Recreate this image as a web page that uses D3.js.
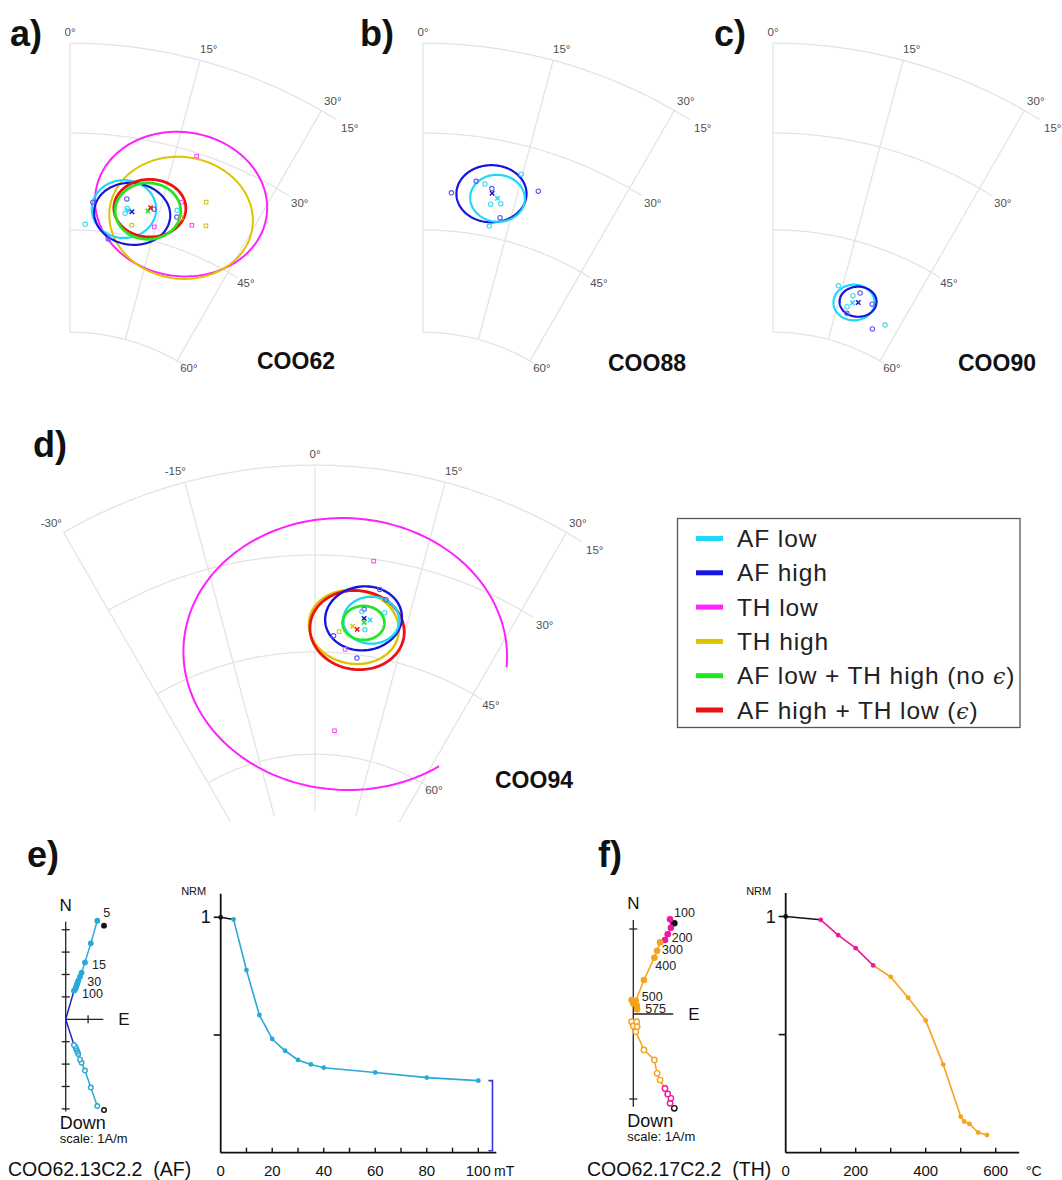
<!DOCTYPE html>
<html><head><meta charset="utf-8">
<script src="https://cdn.jsdelivr.net/npm/d3@7"></script>
<style>
body{margin:0;background:#fff}
svg{display:block}
text{font-family:"Liberation Sans",Arial,sans-serif}
</style>
</head><body>
<svg id="chart" width="1062" height="1180"></svg>
<script>
// ---------------- DATA ----------------
const methods = ["AF low","AF high","TH low","TH high","AF low + TH high (no ","AF high + TH low ("];
const methodColors = ["#1fd8f7","#1515e0","#ff22ff","#dcc400","#22e622","#ee1111"];
const pointColors  = ["#3fd6f2","#5a5af0","#ff44ff","#d6c000","#22e622","#ee1111"];
const methodIsTH   = [false,false,true,true,false,true];

const decTicksSmall = [0,15,30];
const decTicksWide  = [-30,-15,0,15,30];
const incTicks      = [15,30,45,60];

// site COO62 (dec, inc in degrees; a,b semi-axes in degrees; tilt in degrees)
const ellipsesCOO62 = [
  {m:2, dec:18.0, inc:38.4, a:13.3, b:11.1, tilt:-10},
  {m:3, dec:18.7, inc:40.4, a:11.0, b:9.3,  tilt:-11},
  {m:0, dec:9.1,  inc:41.2, a:4.9,  b:4.4,  tilt:-9},
  {m:1, dec:10.6, inc:41.7, a:5.8,  b:4.7,  tilt:-4},
  {m:5, dec:13.3, inc:40.3, a:5.5,  b:4.4,  tilt:-13},
  {m:4, dec:13.1, inc:40.8, a:5.0,  b:4.3,  tilt:-13}
];
const pointsCOO62 = [
  {m:1,dec:3.8,inc:40.7},{m:1,dec:9.3,inc:39.6},{m:1,dec:14.0,inc:40.3},{m:1,dec:7.1,inc:46.0},{m:1,dec:18.0,inc:40.5},
  {m:0,dec:2.7,inc:44.1},{m:0,dec:9.6,inc:41.0},{m:0,dec:9.4,inc:41.8},{m:0,dec:17.7,inc:39.5},
  {m:2,dec:18.0,inc:30.5},{m:2,dec:20.8,inc:40.9},{m:2,dec:18.0,inc:38.1},{m:2,dec:14.8,inc:42.9},
  {m:3,dec:21.6,inc:36.8},{m:3,dec:23.0,inc:40.2},{m:3,dec:10.9,inc:43.4},{m:3,dec:18.7,inc:40.4}
];
const meansCOO62 = [
  {m:1,dec:10.5,inc:41.4},{m:0,dec:9.8,inc:41.3},{m:4,dec:13.1,inc:40.8},{m:5,dec:13.4,inc:40.2}
];

// site COO88
const ellipsesCOO88 = [
  {m:1, dec:11.0, inc:38.5, a:5.4, b:4.4, tilt:-11},
  {m:0, dec:12.1, inc:39.0, a:4.2, b:3.6, tilt:-8}
];
const pointsCOO88 = [
  {m:1,dec:4.6,inc:39.2},{m:1,dec:8.3,inc:37.0},{m:1,dec:10.9,inc:37.7},{m:1,dec:18.0,inc:36.3},{m:1,dec:13.2,inc:41.8},
  {m:0,dec:9.7,inc:37.2},{m:0,dec:14.8,inc:34.5},{m:0,dec:11.2,inc:40.1},{m:0,dec:12.8,inc:39.7},{m:0,dec:11.7,inc:43.4}
];
const meansCOO88 = [{m:1,dec:11.1,inc:38.4},{m:0,dec:12.1,inc:39.0}];

// site COO90
const ellipsesCOO90 = [
  {m:0, dec:18.4, inc:53.8, a:3.0, b:2.6, tilt:-18},
  {m:1, dec:19.2, inc:53.5, a:2.7, b:2.2, tilt:-19}
];
const pointsCOO90 = [
  {m:1,dec:19.0,inc:52.2},{m:1,dec:22.3,inc:53.1},{m:1,dec:17.6,inc:55.6},{m:1,dec:24.6,inc:56.4},
  {m:0,dec:14.1,inc:52.1},{m:0,dec:17.7,inc:52.9},{m:0,dec:17.2,inc:54.7},{m:0,dec:26.9,inc:55.1}
];
const meansCOO90 = [{m:0,dec:18.1,inc:53.9},{m:1,dec:19.3,inc:53.6}];

// site COO94 (TH low ellipse only partially drawn: param range t0..t1)
const ellipsesCOO94 = [
  {m:2, dec:5.5, inc:45.1, a:24.3, b:20.4, tilt:-2.5, t0:52, t1:362},
  {m:3, dec:6.5, inc:40.9, a:6.9,  b:5.6,  tilt:3.5},
  {m:5, dec:7.1, inc:41.3, a:7.2,  b:6.0,  tilt:1},
  {m:1, dec:7.9, inc:39.4, a:5.9,  b:4.9,  tilt:-14},
  {m:0, dec:9.2, inc:39.5, a:4.3,  b:3.6,  tilt:-9},
  {m:4, dec:8.0, inc:40.1, a:3.2,  b:2.6,  tilt:-8}
];
const pointsCOO94 = [
  {m:2,dec:8.2,inc:30.3},{m:2,dec:4.7,inc:56.5},{m:2,dec:5.4,inc:44.4},
  {m:1,dec:7.8,inc:38.0},{m:1,dec:9.7,inc:34.6},{m:1,dec:7.7,inc:45.5},{m:1,dec:3.2,inc:42.5},{m:1,dec:10.9,inc:36.0},
  {m:0,dec:7.5,inc:38.4},{m:0,dec:11.1,inc:38.0},{m:0,dec:8.4,inc:41.1},
  {m:3,dec:4.1,inc:41.8}
];
const meansCOO94 = [
  {m:1,dec:8.0,inc:39.4},{m:0,dec:9.0,inc:39.5},{m:4,dec:8.1,inc:40.0},{m:3,dec:6.3,inc:40.8},{m:5,dec:7.1,inc:41.2}
];

// AF demagnetisation COO62.13C2.2
const afSteps = [0,5,10,15,20,25,30,35,40,60,80,100];
const afE     = [1.71,1.41,1.12,0.86,0.71,0.64,0.56,0.52,0.49,0.46,0.43,0.37];
const afN     = [4.18,4.40,3.39,2.54,2.08,1.90,1.72,1.61,1.52,1.43,1.35,1.28];
const afDown  = [4.05,3.87,3.05,2.29,1.94,1.79,1.55,1.45,1.37,1.30,1.22,1.15];
const afNRM   = [1,0.991,0.776,0.585,0.483,0.433,0.394,0.375,0.361,0.341,0.319,0.306];
const afLabelSteps = [5,15,30,100];
const afTicks = [0,20,40,60,80,100];

// TH demagnetisation COO62.17C2.2
const thSteps = [0,100,150,200,250,300,350,400,450,500,510,525,550,575];
const thE     = [1.93,1.73,1.77,1.62,1.49,1.26,1.12,0.99,0.50,0.12,-0.08,0.00,0.16,0.18];
const thN     = [4.27,4.46,4.06,3.75,3.48,3.37,2.98,2.65,1.60,0.62,0.66,0.50,0.40,0.22];
const thDown  = [4.44,4.20,3.97,3.76,3.50,3.11,2.79,2.16,1.69,0.83,0.36,0.56,0.36,0.60];
const thNRM   = [1,0.986,0.921,0.866,0.793,0.744,0.656,0.560,0.373,0.153,0.132,0.122,0.085,0.075];
const thLabelSteps = [100,200,300,400,500,575];
const thTicks = [0,200,400,600];

// ---------------- DRAWING ----------------
const svg = d3.select("#chart");
const rad = Math.PI/180;
const K = 826;
const rScale = d3.scaleLinear().domain([0,1]).range([0,K]);
const line = d3.line();

function makeProj(cx, cy){
  return (dec, inc) => {
    const r = rScale(Math.sin((90-inc)/2*rad));
    return [cx + r*Math.sin(dec*rad), cy - r*Math.cos(dec*rad)];
  };
}

function ellipsePath(P, e){
  const c = P(e.dec, e.inc);
  const D = e.dec*rad, colat = 90 - e.inc;
  const s = rScale(Math.sin((colat+0.5)/2*rad)) - rScale(Math.sin((colat-0.5)/2*rad));
  const phi = e.tilt*rad;
  const t0 = e.t0 ?? 0, t1 = e.t1 ?? 360;
  const pts = d3.range(t0, t1+0.001, 2).map(t => {
    const u = e.a*Math.cos(t*rad), v = e.b*Math.sin(t*rad);
    const e1 = u*Math.cos(phi) - v*Math.sin(phi), n1 = u*Math.sin(phi) + v*Math.cos(phi);
    return [c[0] + s*(e1*Math.cos(D) - n1*Math.sin(D)), c[1] + s*(e1*Math.sin(D) + n1*Math.cos(D))];
  });
  return line(pts) + ((e.t0 === undefined) ? "Z" : "");
}

function stereo(cfg){
  const g = svg.append("g");
  if (cfg.clip){
    svg.append("clipPath").attr("id","clip"+cfg.label[0])
      .append("rect").attr("x",cfg.clip[0]).attr("y",cfg.clip[1]).attr("width",cfg.clip[2]).attr("height",cfg.clip[3]);
    g.attr("clip-path","url(#clip"+cfg.label[0]+")");
  }
  const P = makeProj(cfg.cx, cfg.cy);
  const gc = "#e2e2e2";
  // arcs
  incTicks.forEach(I => {
    const pts = d3.range(cfg.arcDec[0], cfg.arcDec[1]+0.001, 0.5).map(D => P(D, I));
    g.append("path").attr("d", line(pts)).attr("fill","none").attr("stroke",gc).attr("stroke-width",1.2);
    const lp = P(33.8, I);
    svg.append("text").attr("x",lp[0]).attr("y",lp[1]).attr("dy","0.35em").attr("text-anchor","middle")
      .attr("font-size",11.5).attr("fill","#505050").text(I+"°");
  });
  // radial lines
  cfg.decTicks.forEach(D => {
    const a = P(D, incTicks[0]), b = P(D, cfg.radialMax);
    g.append("line").attr("x1",a[0]).attr("y1",a[1]).attr("x2",b[0]).attr("y2",b[1])
      .attr("stroke",gc).attr("stroke-width",1.2);
    const lp = P(D, 13);
    svg.append("text").attr("x",lp[0] + (D>0?-3:(D<0?4:0))).attr("y",lp[1]).attr("dy","0.35em")
      .attr("text-anchor", D>0?"start":(D<0?"end":"middle"))
      .attr("font-size",11.5).attr("fill","#505050").text(D+"°");
  });
  // ellipses
  cfg.ellipses.forEach(e => {
    g.append("path").attr("d", ellipsePath(P, e)).attr("fill","none")
      .attr("stroke", methodColors[e.m]).attr("stroke-width", cfg.lw[e.m]);
  });
  // points
  cfg.points.forEach(p => {
    const q = P(p.dec, p.inc);
    if (methodIsTH[p.m]) {
      g.append("rect").attr("x",q[0]-1.8).attr("y",q[1]-1.8).attr("width",3.6).attr("height",3.6)
        .attr("fill","none").attr("stroke",pointColors[p.m]).attr("stroke-width",1);
    } else {
      g.append("circle").attr("cx",q[0]).attr("cy",q[1]).attr("r",2.2)
        .attr("fill","none").attr("stroke",pointColors[p.m]).attr("stroke-width",1.1);
    }
  });
  cfg.means.forEach(p => {
    const q = P(p.dec, p.inc);
    g.append("path").attr("d",`M${q[0]-2.2},${q[1]-2.2}L${q[0]+2.2},${q[1]+2.2}M${q[0]-2.2},${q[1]+2.2}L${q[0]+2.2},${q[1]-2.2}`)
      .attr("stroke",methodColors[p.m]).attr("stroke-width",1.5);
  });
  svg.append("text").attr("x",cfg.lx).attr("y",cfg.ly).attr("font-size",36).attr("font-weight","bold").attr("fill","#111").text(cfg.label);
  svg.append("text").attr("x",cfg.nx).attr("y",cfg.ny).attr("font-size",23).attr("font-weight","bold").attr("fill","#111").text(cfg.name);
}

const lwSmall = [2.2,2.2,2,2,2.8,2.8];
stereo({cx:70,  cy:546, decTicks:decTicksSmall, arcDec:[0,32], radialMax:60, ellipses:ellipsesCOO62, points:pointsCOO62, means:meansCOO62,
        lw:lwSmall, label:"a)", lx:10, ly:46, name:"COO62", nx:257, ny:369});
stereo({cx:423, cy:546, decTicks:decTicksSmall, arcDec:[0,32], radialMax:60, ellipses:ellipsesCOO88, points:pointsCOO88, means:meansCOO88,
        lw:lwSmall, label:"b)", lx:360, ly:46, name:"COO88", nx:608, ny:371});
stereo({cx:773, cy:546, decTicks:decTicksSmall, arcDec:[0,32], radialMax:60, ellipses:ellipsesCOO90, points:pointsCOO90, means:meansCOO90,
        lw:lwSmall, label:"c)", lx:714, ly:46, name:"COO90", nx:958, ny:371});
stereo({cx:315, cy:968, decTicks:decTicksWide, arcDec:[-30,32], radialMax:68, ellipses:ellipsesCOO94, points:pointsCOO94, means:meansCOO94,
        lw:[2.4,2.4,2,2.4,2.8,2.8], label:"d)", lx:33, ly:457, name:"COO94", nx:495, ny:788, clip:[0,420,680,402]});

// ---------------- LEGEND ----------------
const lg = svg.append("g");
lg.append("rect").attr("x",677.5).attr("y",518.5).attr("width",342.5).attr("height",209)
  .attr("fill","#fff").attr("stroke","#555").attr("stroke-width",1.3);
methods.forEach((name,i) => {
  const y = 538.5 + i*34.3;
  lg.append("line").attr("x1",696).attr("x2",723).attr("y1",y).attr("y2",y)
    .attr("stroke",methodColors[i]).attr("stroke-width",5);
  const t = lg.append("text").attr("x",737).attr("y",y+8.5).attr("font-size",24.5).attr("letter-spacing",0.9).attr("fill","#222");
  t.append("tspan").text(name);
  if (i >= 4) {
    t.append("tspan").attr("font-family","DejaVu Serif").attr("font-style","italic").attr("font-size",22).text("ϵ");
    t.append("tspan").text(")");
  }
});

// ---------------- ZIJDERVELD + NRM ----------------
function zijder(cfg){
  const g = svg.append("g");
  const xZ = d3.scaleLinear().domain([0,1]).range([cfg.ox, cfg.ox+cfg.u]);
  const yZ = d3.scaleLinear().domain([0,1]).range([cfg.oy, cfg.oy-cfg.u]);
  const ax = "#222";
  g.append("line").attr("x1",xZ(0)).attr("x2",xZ(0)).attr("y1",yZ(cfg.nTop)).attr("y2",yZ(-cfg.dBot)).attr("stroke",ax).attr("stroke-width",1.3);
  g.append("line").attr("x1",xZ(0)).attr("x2",xZ(cfg.eMax)).attr("y1",yZ(0)).attr("y2",yZ(0)).attr("stroke",ax).attr("stroke-width",1.3);
  cfg.vTicks.forEach(k => {
    g.append("line").attr("x1",xZ(0)-4).attr("x2",xZ(0)+4).attr("y1",yZ(k)).attr("y2",yZ(k)).attr("stroke",ax).attr("stroke-width",1.3);
  });
  cfg.hTicks.forEach(k => {
    g.append("line").attr("x1",xZ(k)).attr("x2",xZ(k)).attr("y1",yZ(0)-4).attr("y2",yZ(0)+4).attr("stroke",ax).attr("stroke-width",1.3);
  });
  g.append("text").attr("x",xZ(0)).attr("y",yZ(cfg.nTop)-11).attr("text-anchor","middle").attr("font-size",17).attr("fill","#111").text("N");
  g.append("text").attr("x",xZ(cfg.eMax)+15).attr("y",yZ(0)+6).attr("font-size",17).attr("fill","#111").text("E");
  g.append("text").attr("x",cfg.ox-6).attr("y",cfg.downY).attr("font-size",18).attr("fill","#111").text("Down");
  g.append("text").attr("x",cfg.ox-6).attr("y",cfg.downY+14).attr("font-size",13).attr("fill","#111").text("scale: 1A/m");

  const E = cfg.E, N = cfg.N, Dn = cfg.Down;
  const idx = d3.range(E.length);
  cfg.segments.forEach(sg => {
    const ids = idx.slice(sg[0], sg[1]+1);
    g.append("path").attr("d", line(ids.map(i => [xZ(E[i]), yZ(N[i])]))).attr("fill","none").attr("stroke",sg[2]).attr("stroke-width",1.5);
    g.append("path").attr("d", line(ids.map(i => [xZ(E[i]), yZ(-Dn[i])]))).attr("fill","none").attr("stroke",sg[2]).attr("stroke-width",1.5);
  });
  if (cfg.fit) {
    const i = cfg.fit[0];
    g.append("path").attr("d", line([[xZ(E[i]),yZ(N[i])],[xZ(0),yZ(0)],[xZ(E[i]),yZ(-Dn[i])]])).attr("fill","none").attr("stroke",cfg.fit[1]).attr("stroke-width",1.5);
  }
  idx.forEach(i => {
    const c = cfg.colorOf(i);
    g.append("circle").attr("cx",xZ(E[i])).attr("cy",yZ(N[i])).attr("r",cfg.rDot).attr("fill",c);
    g.append("circle").attr("cx",xZ(E[i])).attr("cy",yZ(-Dn[i])).attr("r",cfg.rDot-0.6).attr("fill","#fff").attr("stroke",c).attr("stroke-width",1.4);
  });
  cfg.labels.forEach((st,j) => {
    const i = cfg.steps.indexOf(st);
    const off = cfg.labelOff[j];
    g.append("text").attr("x",xZ(E[i])+off[0]).attr("y",yZ(N[i])+off[1]).attr("font-size",12.5).attr("fill","#222").text(st);
  });
  g.append("text").attr("x",cfg.nameX).attr("y",1176).attr("font-size",19.5).attr("fill","#111")
    .style("white-space","pre").text(cfg.name);
}

function nrmPlot(cfg){
  const g = svg.append("g");
  const x = d3.scaleLinear().domain(cfg.xDom).range(cfg.xRange);
  const y = d3.scaleLinear().domain([0,1]).range([1152.7, cfg.y1]);
  g.append("line").attr("x1",x(0)).attr("x2",x(0)).attr("y1",y(0)).attr("y2",y(1.1)).attr("stroke","#111").attr("stroke-width",1.8);
  g.append("line").attr("x1",x(0)).attr("x2",x(cfg.xEnd)).attr("y1",y(0)).attr("y2",y(0)).attr("stroke","#111").attr("stroke-width",1.8);
  [1,0.5].forEach(v => g.append("line").attr("x1",x(0)-7).attr("x2",x(0)).attr("y1",y(v)).attr("y2",y(v)).attr("stroke","#111").attr("stroke-width",1.6));
  cfg.minorTicks.forEach(v => g.append("line").attr("x1",x(v)).attr("x2",x(v)).attr("y1",y(0)).attr("y2",y(0)-5).attr("stroke","#111").attr("stroke-width",1.4));
  cfg.ticks.forEach(v => g.append("text").attr("x",x(v)).attr("y",1176).attr("text-anchor","middle").attr("font-size",15).attr("fill","#111").text(v));
  g.append("text").attr("x",cfg.unitX).attr("y",1176).attr("font-size",14).attr("fill","#111").text(cfg.unit);
  g.append("text").attr("x",x(0)-10).attr("y",y(1)+6).attr("text-anchor","end").attr("font-size",18).attr("fill","#111").text("1");
  g.append("text").attr("x",x(0)-27).attr("y",895).attr("text-anchor","middle").attr("font-size",11).attr("fill","#111").text("NRM");
  const S = cfg.steps, V = cfg.vals;
  cfg.segments.forEach(sg => {
    const ids = d3.range(sg[0], sg[1]+1);
    g.append("path").attr("d", line(ids.map(i => [x(S[i]), y(V[i])]))).attr("fill","none").attr("stroke",sg[2]).attr("stroke-width",1.6);
  });
  S.forEach((s,i) => g.append("circle").attr("cx",x(s)).attr("cy",y(V[i])).attr("r",2.4).attr("fill",cfg.colorOf(i)));
  if (cfg.bracket) {
    const bx = x(cfg.bracket[0]), top = y(V[V.length-1]), bot = y(0)-2;
    g.append("path").attr("d",`M${bx-4},${top}L${bx},${top}L${bx},${bot}L${bx-4},${bot}`).attr("fill","none").attr("stroke",cfg.bracket[1]).attr("stroke-width",1.6);
  }
}

const afColor = "#2aa8d8", afFit = "#2020d0";
svg.append("text").attr("x",27).attr("y",867).attr("font-size",36).attr("font-weight","bold").attr("fill","#111").text("e)");
zijder({ox:65.7, oy:1019.3, u:22.4, nTop:4.36, dBot:4.12, eMax:1.68, vTicks:[1,2,3,4,-1,-2,-3,-4], hTicks:[1],
  E:afE, N:afN, Down:afDown, steps:afSteps, segments:[[1,11,afColor]], fit:[11,afFit],
  colorOf:i => i===0 ? "#111" : afColor, rDot:2.9, downY:1129,
  labels:afLabelSteps, labelOff:[[6,-4],[7,7],[9,5],[8,7]], name:"COO62.13C2.2  (AF)", nameX:8});
nrmPlot({xDom:[0,100], xRange:[220.7,478.3], xEnd:107, y1:917.3, minorTicks:d3.range(10,101,10), ticks:afTicks,
  unit:"mT", unitX:494, steps:afSteps, vals:afNRM, segments:[[0,1,"#111"],[1,11,afColor]],
  colorOf:i => i===0 ? "#111" : afColor, bracket:[105.5, "#3434e0"]});

const thLow = "#f0189c", thHigh = "#f7a21b";
svg.append("text").attr("x",598).attr("y",867).attr("font-size",36).attr("font-weight","bold").attr("fill","#111").text("f)");
zijder({ox:633.3, oy:1014, u:21.25, nTop:4.42, dBot:4.36, eMax:1.88, vTicks:[4,-4], hTicks:[],
  E:thE, N:thN, Down:thDown, steps:thSteps, segments:[[1,4,thLow],[4,13,thHigh]],
  colorOf:i => i===0 ? "#111" : (i<=4 ? thLow : thHigh), rDot:3.3, downY:1127,
  labels:thLabelSteps, labelOff:[[4,-2],[4,8],[2,12],[1,12],[6,0],[8,4]], name:"COO62.17C2.2  (TH)", nameX:587});
nrmPlot({xDom:[0,600], xRange:[785.7,995.7], xEnd:667, y1:916.5, minorTicks:[100,200,300,400,500,600], ticks:thTicks,
  unit:"°C", unitX:1026, steps:thSteps, vals:thNRM, segments:[[0,1,"#111"],[1,4,thLow],[4,13,thHigh]],
  colorOf:i => i===0 ? "#111" : (i<=4 ? thLow : thHigh)});
</script>
</body></html>
